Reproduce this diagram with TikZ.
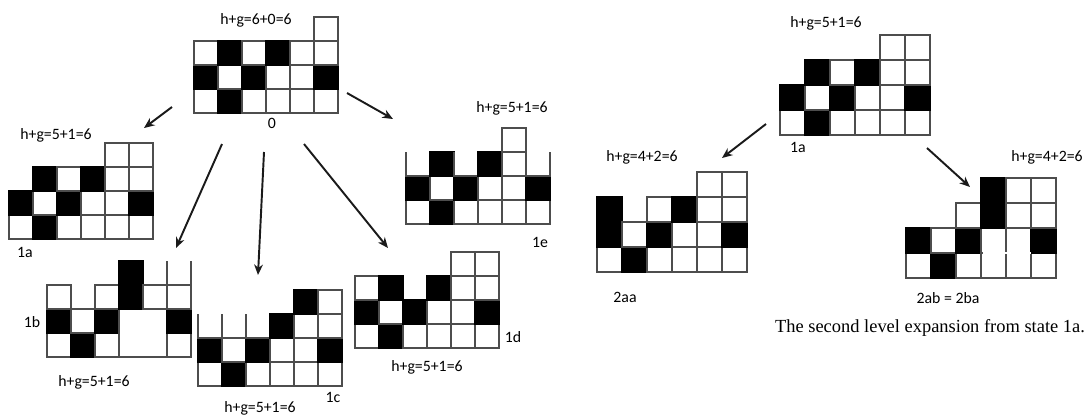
\documentclass[tikz,border=0pt]{standalone}
\usepackage{fontspec}
\setmainfont{Carlito}
\newfontfamily\capfont{Liberation Serif}
\usetikzlibrary{arrows.meta}
\definecolor{gridc}{HTML}{4D4D4D}
\definecolor{ink}{HTML}{1A1A1A}

\tikzset{
  cellline/.style={gridc,line width=0.8pt},
  tag/.style={font=\fontsize{9}{10}\selectfont,inner sep=0pt},
  move/.style={ink,line width=1.1pt,-{Stealth[length=6pt,width=5pt]}},
}

% one block: left x, bottom y, size
\newcommand\cellW[3]{\filldraw[cellline,fill=white] (#1,#2) rectangle ++(#3,-#3);}
\newcommand\cellB[3]{\filldraw[cellline,draw=black,fill=black] (#1,#2) rectangle ++(#3,-#3);}
\newcommand\cellO[3]{\draw[cellline] (#1,#2-#3) -- (#1,#2) -- (#1+#3,#2) -- (#1+#3,#2-#3);}
% columns of blocks, listed bottom up
\newcommand\stacks[4]{%
  \foreach \col [count=\i from 0] in {#4}{
    \foreach \c [count=\j from 0] in \col{
      \pgfmathsetmacro\cx{#1+\i*#3}
      \pgfmathsetmacro\cy{#2-\j*#3}
      \csname cell\c\endcsname{\cx}{\cy}{#3}
    }}}

\begin{document}
\begin{tikzpicture}[x=0.02cm,y=-0.02cm]
  \useasboundingbox (0,0) rectangle (1086,414);

  % first level
  \stacks{194}{113}{24}{{W,B,W},{B,W,B},{W,B,W},{W,W,B},{W,W,W},{W,B,W,W}}
  \stacks{9}{239}{24}{{W,B},{B,W,B},{W,B,W},{W,W,B},{W,W,W,W},{W,B,W,W}}
  \stacks{47}{357}{24}{{W,B,W},{B,W},{W,B,W},{W,W,B,B},{W,W,W},{W,B,W,O}}
  \fill[white] (120.2,310.2) rectangle (165.8,356.2);
  \stacks{198}{386}{24}{{W,B,O},{B,W},{W,B,O},{W,W,B},{W,W,W,B},{W,B,W,W}}
  \stacks{355}{348}{24}{{W,B,W},{B,W,B},{W,B},{W,W,B},{W,W,W,W},{W,B,W,W}}
  \stacks{406}{224}{24}{{W,B,O},{B,W,B},{W,B,O},{W,W,B},{W,W,W,W},{W,B,O}}

  % second level
  \stacks{780}{135}{25}{{W,B},{B,W,B},{W,B,W},{W,W,B},{W,W,W,W},{W,B,W,W}}
  \stacks{597}{272}{25}{{W,B,B},{B,W},{W,B,W},{W,W,B},{W,W,W,W},{W,B,W,W}}
  \stacks{906}{278}{25}{{W,B},{B,W},{W,B,W},{W,W,B,B},{W,W,W,W},{W,B,W,W}}
  \fill[white] (982.8,252.3) rectangle (1031.2,253.7);

  \node[tag] (lab0) at (256,20) {h+g=6+0=6};
  \node[tag] (id0) at (272,123) {0};
  \node[tag] (lab1a) at (56,135) {h+g=5+1=6};
  \node[tag] (id1a) at (25,252) {1a};
  \node[tag] (lab1b) at (94,382) {h+g=5+1=6};
  \node[tag] (id1b) at (32,322) {1b};
  \node[tag] (lab1c) at (260,408) {h+g=5+1=6};
  \node[tag] (id1c) at (333,397) {1c};
  \node[tag] (lab1d) at (427,367) {h+g=5+1=6};
  \node[tag] (id1d) at (513,337) {1d};
  \node[tag] (lab1e) at (512,108) {h+g=5+1=6};
  \node[tag] (id1e) at (540,242) {1e};
  \node[tag] (labr1a) at (826,23) {h+g=5+1=6};
  \node[tag] (idr1a) at (798,147) {1a};
  \node[tag] (lab2aa) at (642,157) {h+g=4+2=6};
  \node[tag] (id2aa) at (625,297) {2aa};
  \node[tag] (lab2ab) at (1047,157) {h+g=4+2=6};
  \node[tag] (id2ab) at (948,298) {2ab = 2ba};
  \node[font=\capfont\fontsize{10.5}{12}\selectfont,inner sep=0pt] (cap) at (930,328)
    {The second level expansion from state 1a.};

  % moves
  \coordinate (f1a) at (172,107);  \coordinate (t1a) at (144,128);
  \coordinate (f1b) at (222,144);  \coordinate (t1b) at (176,248);
  \coordinate (f1c) at (264,152);  \coordinate (t1c) at (258,275);
  \coordinate (f1d) at (304,144);  \coordinate (t1d) at (388,248);
  \coordinate (f1e) at (347,93);   \coordinate (t1e) at (393,119);
  \coordinate (f2aa) at (766,124); \coordinate (t2aa) at (722,158);
  \coordinate (f2ab) at (927,148); \coordinate (t2ab) at (970,187);
  \foreach \m in {1a,1b,1c,1d,1e,2aa,2ab}
    \draw[move] (f\m) -- (t\m);
\end{tikzpicture}
\end{document}
